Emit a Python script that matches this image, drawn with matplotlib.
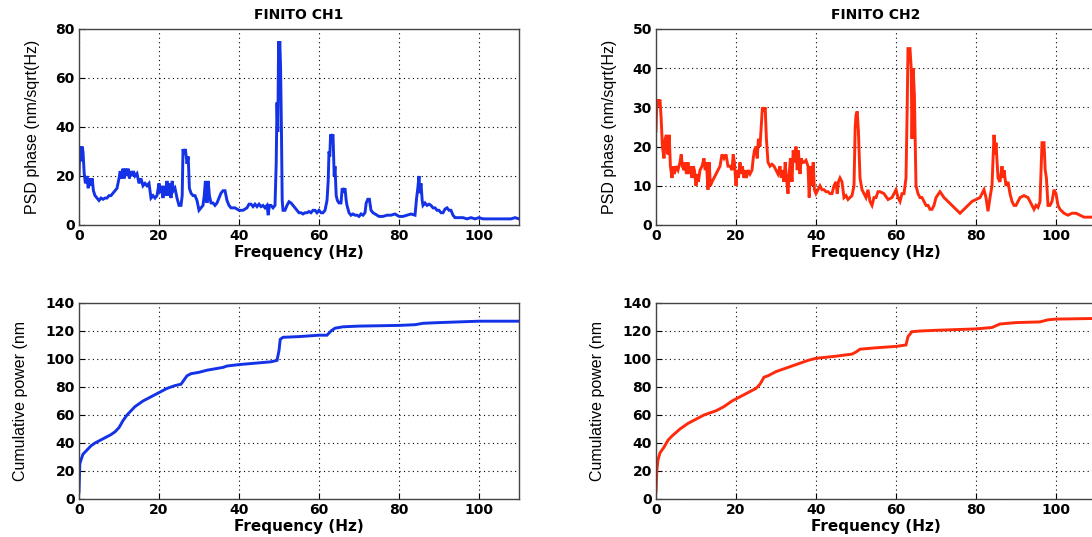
import matplotlib
matplotlib.use("Agg")
import matplotlib.pyplot as plt
from matplotlib.ticker import MultipleLocator
from matplotlib.font_manager import FontProperties

# ---------------- data (frequency Hz, value) ----------------
psd1_points = [
    (0.0, 20), (0.2, 32), (0.5, 26), (0.8, 32), (1.0, 30), (1.3, 21), (1.6, 17), (2.0, 20), (2.3, 15),
    (2.6, 19), (3.0, 16), (3.3, 19), (3.6, 14), (4.0, 12), (4.5, 11), (5.0, 10), (5.5, 11), (6.0, 10.5),
    (6.5, 11), (7.0, 11), (7.5, 12), (8.0, 12), (8.5, 13), (9.0, 14), (9.5, 15), (10.0, 19), (10.3, 22),
    (10.6, 19), (11.0, 23), (11.3, 19), (11.6, 23), (12.0, 20), (12.3, 23), (12.6, 19), (13.0, 22),
    (13.3, 20), (13.6, 22), (14.0, 20), (14.5, 21), (15.0, 17), (15.5, 19), (16.0, 16), (16.5, 17),
    (17.0, 16), (17.5, 17), (18.0, 11), (18.5, 12), (19.0, 11), (19.5, 12), (20.0, 17), (20.3, 13),
    (20.6, 16), (21.0, 11), (21.3, 16), (21.6, 12), (22.0, 18), (22.3, 12), (22.6, 17), (23.0, 11),
    (23.3, 18), (23.6, 14), (24.0, 15), (24.5, 11), (25.0, 8), (25.5, 8), (25.8, 12), (26.0, 31),
    (26.3, 29), (26.6, 31), (27.0, 25), (27.3, 28), (27.6, 15), (28.0, 13), (28.5, 12), (29.0, 12),
    (29.5, 10), (30.0, 6), (30.5, 7), (31.0, 8), (31.3, 12), (31.6, 18), (32.0, 9), (32.3, 18),
    (32.6, 12), (33.0, 9), (33.5, 9), (34.0, 8), (34.5, 9), (35.0, 11), (35.5, 13), (36.0, 14),
    (36.5, 14), (37.0, 10), (37.5, 8), (38.0, 7), (39.0, 7), (40.0, 6), (41.0, 6), (42.0, 7),
    (42.5, 8.5), (43.0, 8.5), (43.5, 7.5), (44.0, 8.5), (44.5, 7.5), (45.0, 8.5), (45.5, 7.5),
    (46.0, 8), (46.5, 7), (47.0, 8), (47.3, 4), (47.6, 8), (48.0, 8), (48.5, 7), (49.0, 8),
    (49.3, 25), (49.5, 50), (49.7, 38), (49.9, 75), (50.0, 70), (50.2, 75), (50.4, 64), (50.6, 40),
    (50.8, 10), (51.0, 6), (51.5, 6), (52.0, 8), (52.5, 9.5), (53.0, 9), (53.5, 8), (54.0, 7),
    (54.5, 6), (55.0, 5), (55.5, 5), (56.0, 4.5), (56.5, 5), (57.0, 5), (57.5, 5.5), (58.0, 5),
    (58.5, 6), (59.0, 6), (59.5, 5), (60.0, 6), (60.5, 5), (61.0, 5), (61.5, 6), (62.0, 10),
    (62.3, 18), (62.5, 30), (62.7, 28), (62.9, 37), (63.2, 36), (63.5, 37), (63.8, 20), (64.0, 24),
    (64.3, 12), (64.6, 10), (65.0, 9), (65.5, 9), (65.8, 15), (66.2, 14), (66.5, 15), (66.8, 10),
    (67.0, 8), (67.5, 5), (68.0, 4), (68.5, 4.5), (69.0, 4), (69.5, 4), (70.0, 3.5), (70.5, 4.5),
    (71.0, 4), (71.5, 5), (71.8, 9), (72.2, 10.5), (72.6, 10.5), (73.0, 6), (73.5, 5), (74.0, 4.5),
    (75.0, 3.5), (76.0, 3.5), (77.0, 4), (78.0, 4), (79.0, 4.5), (80.0, 3.5), (81.0, 3.5), (82.0, 4),
    (83.0, 4.5), (84.0, 4), (84.4, 11), (84.7, 15), (85.0, 20), (85.2, 13), (85.5, 17), (85.8, 10),
    (86.0, 8), (86.5, 9), (87.0, 8), (87.5, 8.5), (88.0, 8), (88.5, 7), (89.0, 7), (89.5, 6),
    (90.0, 6), (90.5, 5), (91.0, 5), (91.5, 6.5), (92.0, 7), (92.5, 6), (93.0, 6), (93.5, 4),
    (94.0, 3), (94.5, 3), (95.0, 3), (96.0, 3), (97.0, 2.5), (98.0, 3), (99.0, 2.5), (100.0, 3),
    (101.0, 2.5), (102.0, 2.5), (103.0, 2.5), (104.0, 2.5), (105.0, 2.5), (106.0, 2.5), (107.0, 2.5),
    (108.0, 2.5), (109.0, 3), (110.0, 2.5),
]

psd2_points = [
    (0.0, 24), (0.2, 32), (0.6, 31), (1.0, 32), (1.3, 27), (1.6, 20), (2.0, 17), (2.3, 22), (2.6, 23),
    (3.0, 18), (3.3, 23), (3.6, 15), (4.0, 12), (4.3, 15), (4.6, 13), (5.0, 15), (5.5, 14), (6.0, 16),
    (6.3, 18), (6.6, 15), (7.0, 14), (7.3, 16), (7.6, 13), (8.0, 16), (8.3, 13), (8.6, 15), (9.0, 12),
    (9.3, 15), (9.6, 14), (10.0, 10), (10.3, 13), (10.6, 11), (11.0, 14), (11.5, 15), (12.0, 17),
    (12.3, 14), (12.6, 16), (13.0, 9), (13.3, 16), (13.6, 10), (14.0, 11), (14.5, 12), (15.0, 13),
    (15.5, 14), (16.0, 15), (16.5, 18), (17.0, 17), (17.5, 18), (18.0, 15), (18.5, 15), (19.0, 14),
    (19.3, 18), (19.6, 16), (20.0, 10), (20.3, 14), (20.6, 12), (21.0, 16), (21.3, 13), (21.6, 15),
    (22.0, 12), (22.3, 14), (22.6, 12), (23.0, 14), (23.5, 13), (24.0, 14), (24.3, 17), (24.6, 19),
    (25.0, 20), (25.3, 17), (25.6, 22), (26.0, 20), (26.3, 25), (26.6, 30), (27.0, 29), (27.3, 30),
    (27.6, 22), (28.0, 16), (28.5, 15), (29.0, 15.5), (29.5, 15), (30.0, 14), (30.5, 13), (31.0, 15),
    (31.3, 12), (31.6, 14), (32.0, 11), (32.3, 16), (32.6, 12), (33.0, 8), (33.3, 13), (33.6, 17),
    (34.0, 11), (34.3, 19), (34.6, 16), (35.0, 20), (35.3, 14), (35.6, 19), (36.0, 13), (36.3, 17),
    (36.6, 16), (37.0, 16), (37.5, 16.5), (38.0, 15), (38.3, 7), (38.6, 15), (39.0, 10), (39.3, 16),
    (39.6, 9), (40.0, 8), (40.5, 9), (41.0, 10), (41.5, 9), (42.0, 9), (42.5, 8.5), (43.0, 8.5),
    (43.5, 8), (44.0, 8), (44.5, 10), (45.0, 11), (45.3, 8), (45.6, 11), (46.0, 12), (46.5, 11),
    (47.0, 7), (47.5, 7.5), (48.0, 6.5), (48.5, 7), (49.0, 7.5), (49.5, 10), (49.8, 25), (50.0, 28),
    (50.3, 29), (50.6, 24), (51.0, 12), (51.5, 9), (52.0, 8), (52.5, 7), (53.0, 9), (53.5, 6),
    (54.0, 5), (54.5, 7), (55.0, 7), (55.5, 8.5), (56.0, 8.5), (57.0, 8), (58.0, 6.5), (59.0, 7),
    (60.0, 9), (60.5, 7), (61.0, 6), (61.5, 8), (62.0, 8), (62.5, 12), (62.8, 30), (63.0, 45),
    (63.5, 45), (63.8, 40), (64.0, 22), (64.3, 40), (64.6, 33), (65.0, 10), (65.5, 8), (66.0, 7),
    (66.5, 7), (67.0, 6), (67.5, 5), (68.0, 5), (68.5, 4), (69.0, 4), (69.5, 5), (70.0, 7),
    (71.0, 8.5), (72.0, 7), (73.0, 6), (74.0, 5), (75.0, 4), (76.0, 3), (77.0, 4), (78.0, 5),
    (79.0, 6), (80.0, 6.5), (81.0, 7), (81.5, 8), (82.0, 9), (82.5, 7), (83.0, 3.5), (83.5, 7),
    (84.0, 10), (84.5, 23), (84.8, 18), (85.0, 21), (85.5, 12), (86.0, 11), (86.5, 15), (86.8, 12),
    (87.0, 14), (87.5, 10), (88.0, 11), (88.5, 8), (89.0, 6), (89.5, 5), (90.0, 5), (90.5, 6),
    (91.0, 7), (92.0, 7.5), (93.0, 7), (93.5, 6), (94.0, 5), (94.5, 4), (95.0, 5), (95.5, 4.5),
    (96.0, 6), (96.5, 21), (97.0, 21), (97.3, 14), (97.6, 12), (98.0, 5), (98.5, 5), (99.0, 6),
    (99.5, 9), (100.0, 8), (100.5, 5), (101.0, 4), (102.0, 3), (103.0, 2.5), (104.0, 3), (105.0, 3),
    (106.0, 2.5), (107.0, 2), (108.0, 2), (109.0, 2), (110.0, 2), (111.0, 2),
]

cum1_points = [
    (0.0, 5), (0.2, 25), (0.5, 28), (1.0, 32), (2.0, 35), (3.0, 38), (4.0, 40), (6.0, 43), (8.0, 46),
    (9.0, 48), (10.0, 51), (11.0, 56), (12.0, 60), (14.0, 66), (16.0, 70), (18.0, 73), (20.0, 76),
    (22.0, 79), (24.0, 81), (25.5, 82), (26.5, 86), (27.0, 88), (28.0, 89.5), (30.0, 90.5), (32.0, 92),
    (34.0, 93), (36.0, 94), (37.0, 95), (40.0, 96), (44.0, 97), (48.0, 98), (49.5, 99), (50.0, 106),
    (50.3, 114), (51.0, 115.5), (55.0, 116), (60.0, 117), (62.0, 117), (63.0, 120), (64.0, 122),
    (66.0, 123), (70.0, 123.5), (80.0, 124), (84.0, 124.5), (86.0, 125.5), (90.0, 126), (95.0, 126.5),
    (100.0, 127), (110.0, 127),
]

cum2_points = [
    (0.0, 5), (0.2, 20), (0.5, 28), (1.0, 33), (2.0, 37), (3.0, 42), (4.0, 45), (6.0, 50), (8.0, 54),
    (10.0, 57), (12.0, 60), (15.0, 63), (17.0, 66), (19.0, 70), (21.0, 73), (23.0, 76), (25.0, 79),
    (26.0, 82), (27.0, 87), (28.0, 88), (30.0, 91), (33.0, 94), (36.0, 97), (38.0, 99), (40.0, 100.5),
    (45.0, 102), (49.0, 103.5), (50.0, 105), (51.0, 107), (55.0, 108), (60.0, 109), (62.5, 110),
    (63.0, 116), (64.0, 119.5), (66.0, 120), (70.0, 120.5), (75.0, 121), (80.0, 121.5), (84.0, 122.5),
    (86.0, 125), (90.0, 126), (96.0, 126.5), (98.0, 128), (100.0, 128.5), (111.0, 129),
]

titles = ["FINITO CH1", "FINITO CH2"]
psd_ylabel = "PSD phase (nm/sqrt(Hz)"
cum_ylabel = "Cumulative power (nm"
xlabel = "Frequency (Hz)"
blue = "#1432e6"
red = "#ff2a0c"

# ---------------- figure ----------------
W, H = 1092, 537
fig = plt.figure(figsize=(W / 100, H / 100), dpi=100)


def px_axes(x0, y0, x1, y1):
    return fig.add_axes([x0 / W, 1 - y1 / H, (x1 - x0) / W, (y1 - y0) / H])


bold_fam = ["DejaVu Sans"]
narrow = ["Liberation Sans Narrow", "Liberation Sans", "DejaVu Sans"]


def style(ax, ymax, ystep, ylabel, pad):
    ax.set_xlim(0, 110)
    ax.set_ylim(0, ymax)
    ax.xaxis.set_major_locator(MultipleLocator(20))
    ax.yaxis.set_major_locator(MultipleLocator(ystep))
    ax.grid(True, color="black", linestyle=(0, (1, 3)), linewidth=0.8)
    ax.tick_params(direction="in", length=4, width=0.8, pad=3)
    fp = FontProperties(family=bold_fam, weight="bold", size=10)
    for lab in ax.get_xticklabels() + ax.get_yticklabels():
        lab.set_fontproperties(fp)
    for s in ax.spines.values():
        s.set_color("#444444")
        s.set_linewidth(1.0)
    ax.set_xlabel(xlabel, family=bold_fam, weight="bold", size=11, labelpad=1)
    ax.set_ylabel(ylabel, family=narrow, size=11.5, labelpad=pad)


def draw(ax, points, color):
    xs = [p[0] for p in points]
    ys = [p[1] for p in points]
    ax.plot(xs, ys, color=color, lw=2.1, solid_joinstyle="miter")


ax1 = px_axes(79, 29, 519, 225)
draw(ax1, psd1_points, blue)
style(ax1, 80, 20, psd_ylabel, 11)
ax1.set_title(titles[0], family=bold_fam, weight="bold", size=10, pad=7)

ax2 = px_axes(656, 29, 1096, 225)
draw(ax2, psd2_points, red)
style(ax2, 50, 10, psd_ylabel, 11)
ax2.set_title(titles[1], family=bold_fam, weight="bold", size=10, pad=7)

ax3 = px_axes(79, 303, 519, 499)
draw(ax3, cum1_points, blue)
style(ax3, 140, 20, cum_ylabel, 13)

ax4 = px_axes(656, 303, 1096, 499)
draw(ax4, cum2_points, red)
style(ax4, 140, 20, cum_ylabel, 13)

fig.savefig("out.png", dpi=100)
